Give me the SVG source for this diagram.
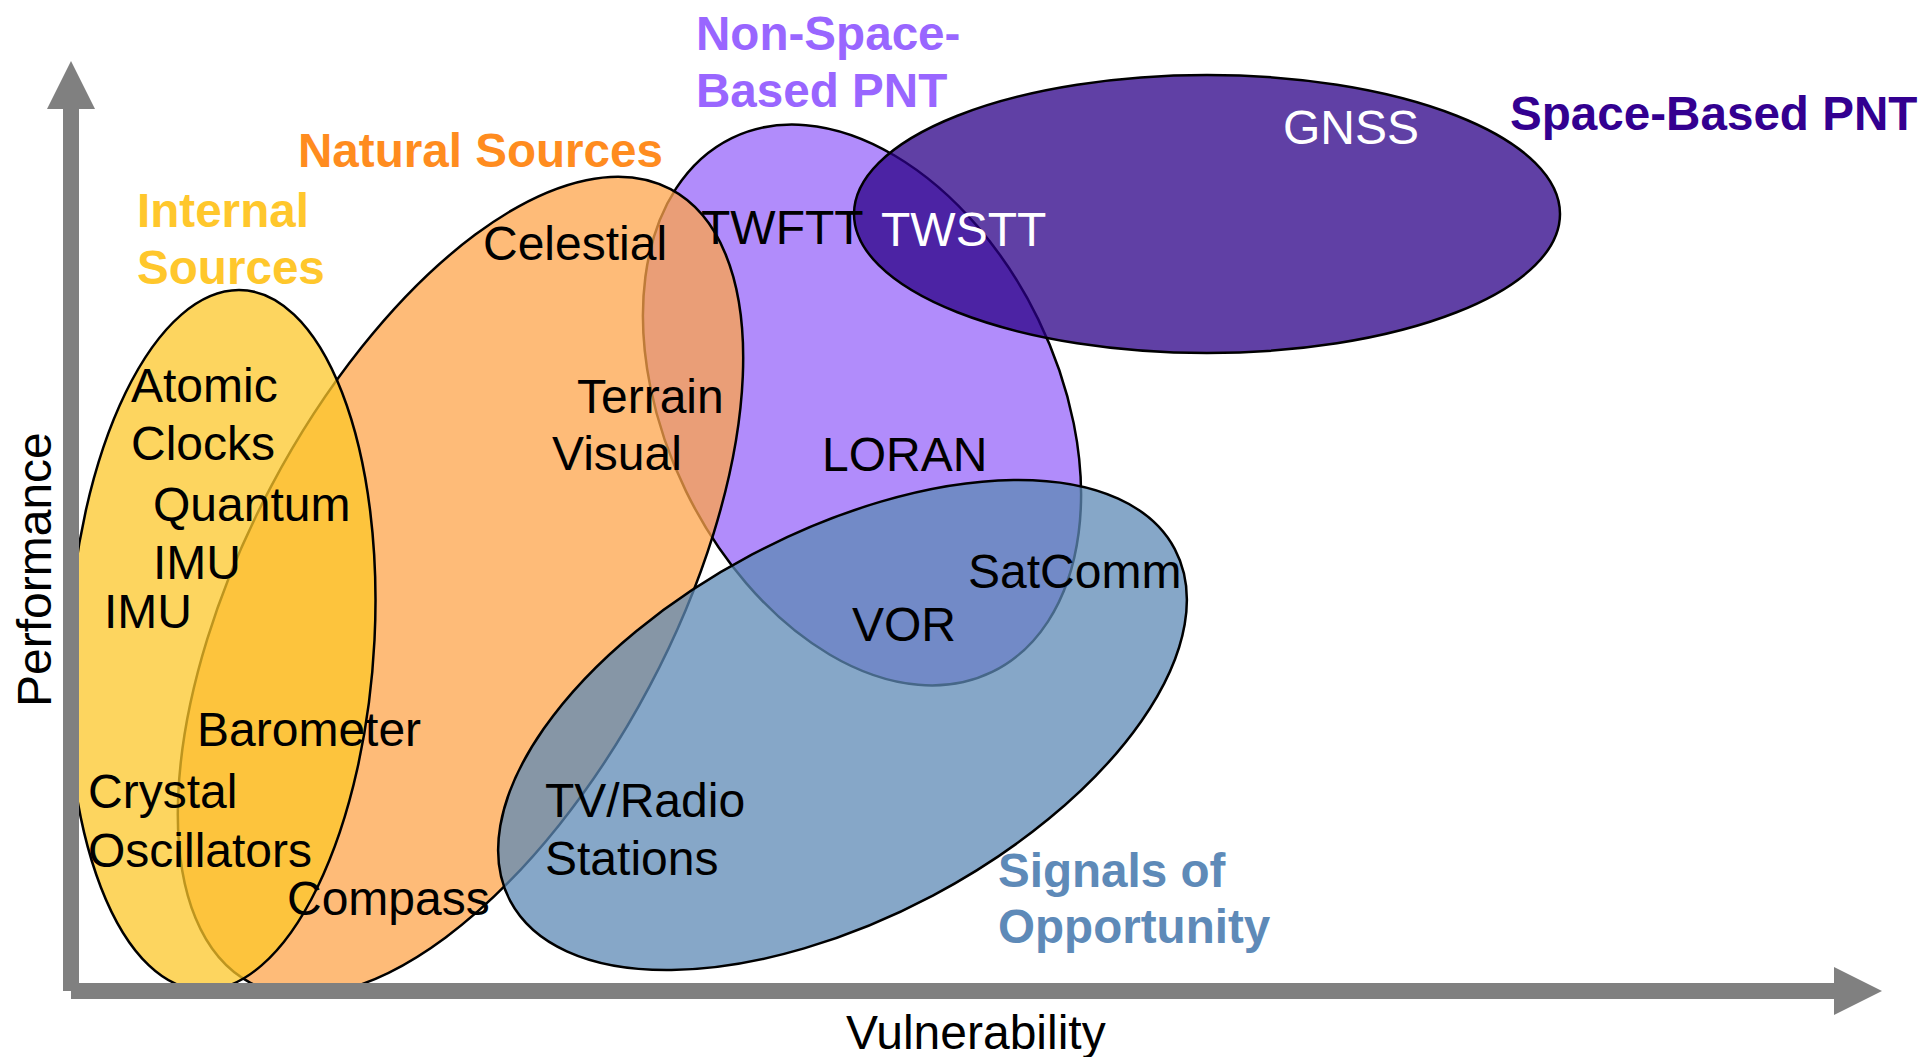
<svg xmlns="http://www.w3.org/2000/svg" width="1924" height="1057" viewBox="0 0 1924 1057">
<defs>
<style>
.reg{stroke:#000;stroke-width:2.5;fill-opacity:0.75}
.item{font-family:"Liberation Sans",Arial,sans-serif;font-size:48px;fill:#000}
.white{fill:#fff}
.cat{font-family:"Liberation Sans",Arial,sans-serif;font-size:47.6px;font-weight:bold}
.axislbl{font-family:"Liberation Sans",Arial,sans-serif;font-size:48px;fill:#000}
.axis{fill:#808080}
</style>
</defs>
<rect width="1924" height="1057" fill="#fff"/>
<g id="region-nonspace">
<ellipse class="reg" cx="0" cy="0" rx="196" ry="297" transform="translate(862 405) rotate(-26)" style="fill-opacity:1;fill:#B18CFB"/>
</g>
<g id="region-space">
<ellipse class="reg" cx="1207" cy="214" rx="353" ry="139" fill="#2B0087"/>
</g>
<g id="region-natural">
<ellipse class="reg" cx="0" cy="0" rx="449" ry="214" fill="#FEA44B" transform="translate(460.5 586) rotate(-62.1)"/>
</g>
<g id="region-signals">
<ellipse class="reg" cx="0" cy="0" rx="376" ry="193" fill="#5E8AB6" transform="translate(842.5 725) rotate(-27.9)"/>
</g>
<g id="region-internal">
<ellipse class="reg" cx="0" cy="0" rx="153" ry="350" fill="#FCC72A" transform="translate(221.5 640) skewX(-2.86)"/>
</g>
<g id="connectors">
<rect class="axis" x="63" y="107" width="16" height="884"/>
<polygon class="axis" points="47,109 95,109 71,61"/>
<rect class="axis" x="71" y="983" width="1765" height="16"/>
<polygon class="axis" points="1834,967 1834,1015 1882,991"/>
</g>
<g id="axis-labels">
<text class="axislbl" x="50.5" y="707" transform="rotate(-90 50.5 707)">Performance</text>
<text class="axislbl" x="846" y="1049">Vulnerability</text>
</g>
<g id="labels-internal">
<text class="cat" fill="#FFC72C" x="137" y="227">Internal</text>
<text class="cat" fill="#FFC72C" x="137" y="284">Sources</text>
<text class="item" x="131" y="402">Atomic</text>
<text class="item" x="131" y="460">Clocks</text>
<text class="item" x="153" y="521">Quantum</text>
<text class="item" x="153" y="579">IMU</text>
<text class="item" x="104" y="628">IMU</text>
<text class="item" x="197" y="746">Barometer</text>
<text class="item" x="88" y="808">Crystal</text>
<text class="item" x="88" y="867">Oscillators</text>
</g>
<g id="labels-natural">
<text class="cat" fill="#FF8C1F" x="298" y="167">Natural Sources</text>
<text class="item" x="287" y="915">Compass</text>
<text class="item" x="483" y="260">Celestial</text>
<text class="item" x="577" y="413">Terrain</text>
<text class="item" x="552" y="470">Visual</text>
</g>
<g id="labels-nonspace">
<text class="cat" fill="#9966FF" x="696" y="50">Non-Space-</text>
<text class="cat" fill="#9966FF" x="696" y="107">Based PNT</text>
<text class="item" x="701" y="244">TWFTT</text>
<text class="item" x="822" y="471">LORAN</text>
</g>
<g id="labels-space">
<text class="cat" fill="#330090" x="1510" y="130">Space-Based PNT</text>
<text class="item white" x="881" y="246">TWSTT</text>
<text class="item white" x="1283" y="144">GNSS</text>
</g>
<g id="labels-signals">
<text class="cat" fill="#5E8AB8" x="998" y="887">Signals of</text>
<text class="cat" fill="#5E8AB8" x="998" y="943">Opportunity</text>
<text class="item" x="968" y="588">SatComm</text>
<text class="item" x="852" y="641">VOR</text>
<text class="item" x="545" y="817">TV/Radio</text>
<text class="item" x="545" y="875">Stations</text>
</g>
</svg>
